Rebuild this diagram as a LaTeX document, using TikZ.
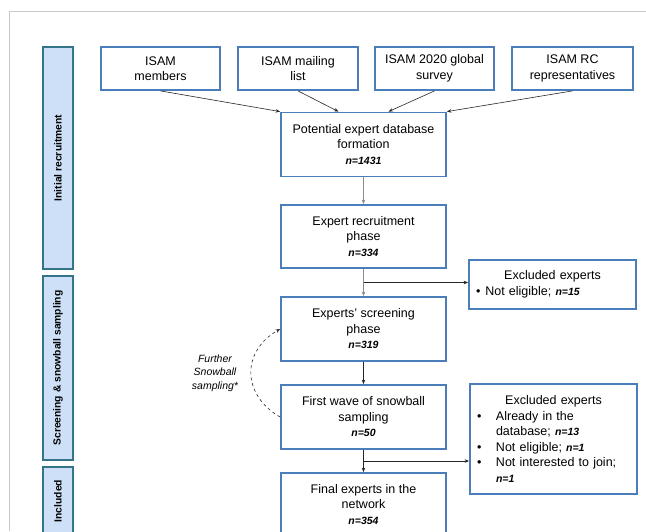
\documentclass[tikz,border=0pt]{standalone}
\usepackage{fontspec}
\setmainfont{Liberation Sans}
\usepackage{xcolor}
\usepackage{tikz}
\usetikzlibrary{arrows.meta,calc}
\definecolor{boxblue}{RGB}{74,126,187}
\definecolor{barfill}{RGB}{205,224,247}
\definecolor{barline}{RGB}{52,117,137}
\definecolor{framegray}{RGB}{200,200,200}
\newcommand{\nval}[1]{{\fontsize{10.5}{12}\selectfont\bfseries\itshape #1}}
\newcommand{\bulitem}[1]{\par\hangindent=22pt\hangafter=1\noindent\makebox[22pt][l]{\hspace{3pt}\textbullet}#1}

\begin{document}
\begin{tikzpicture}[x=1pt,y=-1pt,
  >={Stealth[length=4.5pt,width=3.5pt]},
  box/.style={draw=boxblue,line width=1.8pt,fill=white,align=center,inner sep=4pt,font=\fontsize{12.5}{15.5}\selectfont},
  phase/.style={draw=barline,line width=1.8pt,fill=barfill,rotate=90,minimum height=30pt,inner sep=0pt,font=\fontsize{10.3}{12}\selectfont\bfseries},
  flow/.style={->,line width=0.6pt,black!85}]
\useasboundingbox (0,0) rectangle (646,531);
\clip (0,0) rectangle (646,531);
\draw [framegray,line width=1pt] (9,531) -- (9,11) -- (646,11);
% phases
\node [phase,minimum width=222pt] (ph1) at (58,158) {Initial recruitment};
\node [phase,minimum width=184pt] (ph2) at (58,368) {Screening \& snowball sampling};
\node [phase,minimum width=68pt] (ph3) at (58,501) {Included};
% sources
\node [box,minimum width=119pt,minimum height=43pt] (mem) at (160.5,68.5) {ISAM\\members};
\node [box,minimum width=120pt,minimum height=43pt] (mail) at (298,68.5) {ISAM mailing\\list};
\node [box,minimum width=119pt,minimum height=43pt] (surv) at (434.5,68.5) {ISAM 2020 global\\survey};
\node [box,minimum width=121pt,minimum height=43pt] (rc) at (572.5,68.5) {ISAM RC\\representatives};
% main flow
\node [box,minimum width=165pt,minimum height=64pt] (db) at (363.5,144.5) {Potential expert database\\formation\\\nval{n=1431}};
\node [box,minimum width=165pt,minimum height=63pt] (rec) at (363.5,236.5) {Expert recruitment\\phase\\\nval{n=334}};
\node [box,minimum width=165pt,minimum height=64pt] (scr) at (363.5,329) {Experts' screening\\phase\\\nval{n=319}};
\node [box,minimum width=165pt,minimum height=64pt] (wave) at (363.5,417) {First wave of snowball\\sampling\\\nval{n=50}};
\node [box,minimum width=165pt,minimum height=63pt] (fin) at (363.5,504.5) {Final experts in the\\network\\\nval{n=354}};
% exclusions
\node [box,minimum width=167pt,minimum height=49pt,text width=159pt,align=left] (exc1) at (552.5,284.5)
  {{\centering Excluded experts\par}\noindent\hspace*{3pt}\textbullet\hspace{5pt}Not eligible; \nval{n=15}};
\node [box,minimum width=167pt,minimum height=110pt,text width=159pt,align=left] (exc2) at (553.5,439)
  {{\centering Excluded experts\par}\bulitem{Already in the\newline database; \nval{n=13}}\bulitem{Not eligible; \nval{n=1}}\bulitem{Not interested to join;\newline \nval{n=1}}\par};
\node [font=\fontsize{10.5}{13.5}\selectfont\itshape,align=center] (snow) at (215,373) {Further\\Snowball\\sampling*};
% connectors
\draw [flow] (mem.south) -- (db.north west);
\draw [flow] (mail.south) -- ([xshift=-25pt]db.north);
\draw [flow] (surv.south) -- ([xshift=25pt]db.north);
\draw [flow] (rc.south) -- (db.north east);
\draw [flow,black!45] (db) -- (rec);
\draw [flow,black!45] (rec) -- (scr);
\draw [flow] (scr) -- (wave);
\draw [flow] (wave) -- (fin);
\coordinate (br1) at ($(rec.south)!0.5!(scr.north)$);
\coordinate (br2) at ($(wave.south)!0.5!(fin.north)$);
\draw [flow] (br1) -- (br1 -| exc1.west);
\draw [flow] (br2) -- (br2 -| exc2.west);
\draw [flow,dashed] (wave.west) to [out=150,in=210,looseness=1.3] (scr.west);
\end{tikzpicture}
\end{document}
